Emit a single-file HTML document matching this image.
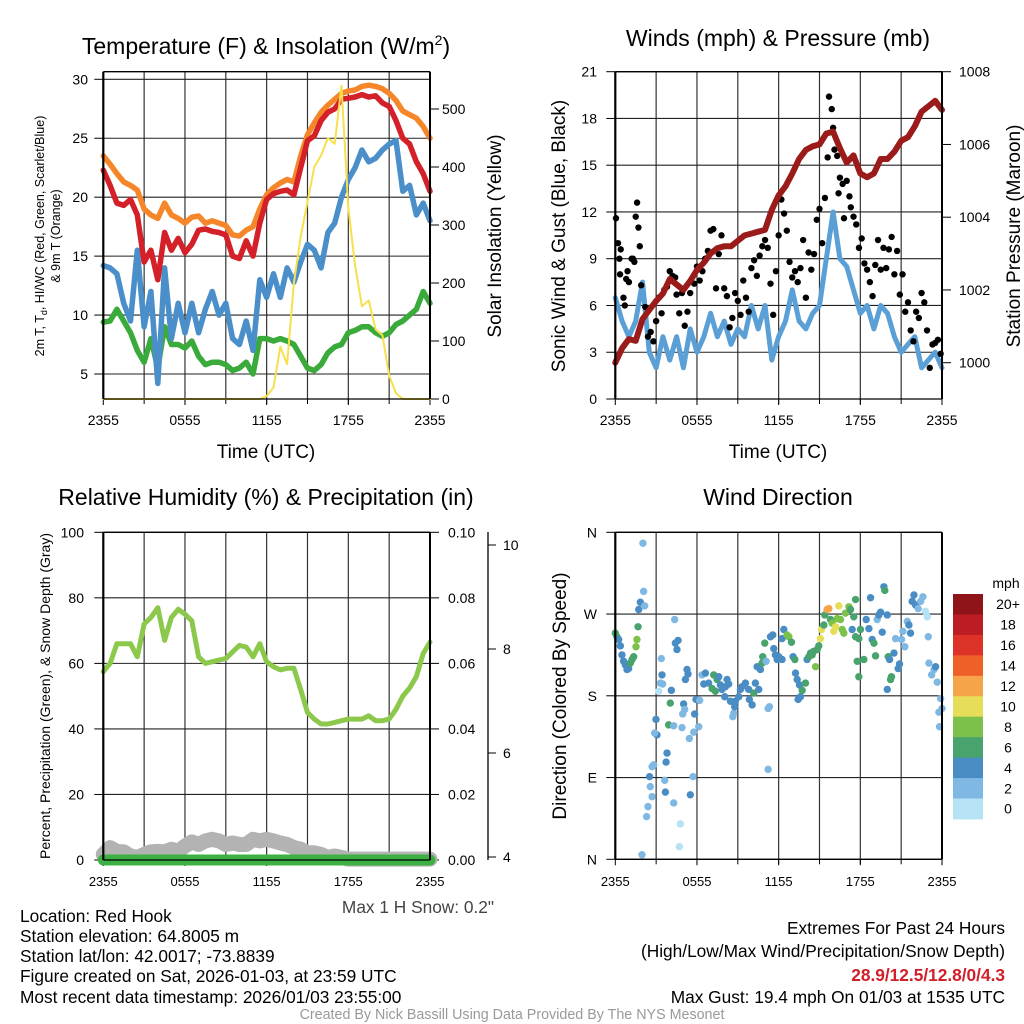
<!DOCTYPE html>
<html><head><meta charset="utf-8">
<style>
html,body{margin:0;padding:0;background:#fff;}
svg{display:block;font-family:"Liberation Sans",sans-serif;}
.t{font-size:23px;fill:#000;}
.ax{font-size:19px;fill:#000;}
.ft{font-family:"Liberation Sans",sans-serif;font-size:17.3px;fill:#000;}
</style></head>
<body>
<svg id="fig" width="1024" height="1024" viewBox="0 0 1024 1024" xmlns="http://www.w3.org/2000/svg">
<text class="t" x="266" y="54" text-anchor="middle">Temperature (F) &amp; Insolation (W/m<tspan dy="-9" font-size="14">2</tspan><tspan dy="9">)</tspan></text>
<text class="t" x="778" y="46" text-anchor="middle">Winds (mph) &amp; Pressure (mb)</text>
<text class="t" x="266" y="505" text-anchor="middle">Relative Humidity (%) &amp; Precipitation (in)</text>
<text class="t" x="778" y="505" text-anchor="middle">Wind Direction</text>

<text class="ax" x="266" y="458" text-anchor="middle">Time (UTC)</text>
<text class="ax" x="778" y="458" text-anchor="middle">Time (UTC)</text>
<text font-size="12.5" transform="translate(44,236) rotate(-90)" text-anchor="middle">2m T, T<tspan font-size="9" dy="3">d</tspan><tspan dy="-3">, HI/WC (Red, Green, Scarlet/Blue)</tspan></text>
<text font-size="12.5" transform="translate(60,236) rotate(-90)" text-anchor="middle">&amp; 9m T (Orange)</text>
<text class="ax" transform="translate(501,236) rotate(-90)" text-anchor="middle">Solar Insolation (Yellow)</text>
<text class="ax" transform="translate(565,236) rotate(-90)" text-anchor="middle">Sonic Wind &amp; Gust (Blue, Black)</text>
<text class="ax" transform="translate(1020,236) rotate(-90)" text-anchor="middle">Station Pressure (Maroon)</text>
<text font-size="14" transform="translate(50,696) rotate(-90)" text-anchor="middle">Percent, Precipitation (Green), &amp; Snow Depth (Gray)</text>
<text class="ax" transform="translate(566,696) rotate(-90)" text-anchor="middle">Direction (Colored By Speed)</text>

<g id="p1"></g>
<g id="p2"></g>
<g id="p3"></g>
<g id="p4"></g>
<g id="cb"></g>
<text x="1006" y="588" font-size="14" text-anchor="middle">mph</text>

<text class="ft" x="418" y="913" text-anchor="middle" style="fill:#444">Max 1 H Snow: 0.2"</text>
<g>
<text class="ft" x="20" y="922">Location: Red Hook</text>
<text class="ft" x="20" y="942">Station elevation: 64.8005 m</text>
<text class="ft" x="20" y="962">Station lat/lon: 42.0017; -73.8839</text>
<text class="ft" x="20" y="982">Figure created on Sat, 2026-01-03, at 23:59 UTC</text>
<text class="ft" x="20" y="1003">Most recent data timestamp: 2026/01/03 23:55:00</text>
</g>
<g>
<text class="ft" x="1005" y="934" text-anchor="end">Extremes For Past 24 Hours</text>
<text class="ft" x="1005" y="957" text-anchor="end">(High/Low/Max Wind/Precipitation/Snow Depth)</text>
<text class="ft" x="1005" y="981" text-anchor="end" font-weight="bold" style="fill:#d0202a">28.9/12.5/12.8/0/4.3</text>
<text class="ft" x="1005" y="1003" text-anchor="end">Max Gust: 19.4 mph On 01/03 at 1535 UTC</text>
</g>
<text x="512" y="1019" font-size="14.3" text-anchor="middle" style="fill:#999">Created By Nick Bassill Using Data Provided By The NYS Mesonet</text>
</svg>
<script>
const hours = [0,0.5,1,1.5,2,2.5,3,3.5,4,4.5,5,5.5,6,6.5,7,7.5,8,8.5,9,9.5,10,10.5,11,11.5,12,12.5,13,13.5,14,14.5,15,15.5,16,16.5,17,17.5,18,18.5,19,19.5,20,20.5,21,21.5,22,22.5,23,23.5,24];
const xTickHours = [0,6,12,18,24];
const xTickLabels = ['2355','0555','1155','1755','2355'];
const tempTicks = [5,10,15,20,25,30];
const solarTicks = [0,100,200,300,400,500];
const windTicks = [0,3,6,9,12,15,18,21];
const presTicks = [1000,1002,1004,1006,1008];
const rhTicks = [0,20,40,60,80,100];
const precipTicks = ['0.00','0.02','0.04','0.06','0.08','0.10'];
const snowTicks = [4,6,8,10];
const dirTicks = [0,90,180,270,360];
const dirLabels = ['N','E','S','W','N'];

const temp9m = [23.5,22.8,22,21.3,21,20.6,19,18.5,18.2,19.5,18.5,18.2,17.8,18.3,18.4,17.8,18,17.8,17.6,16.8,16.7,17.2,17.5,19,20.2,20.8,21.2,21.5,21.3,23.5,25.3,26.3,27.2,27.8,28.3,28.8,29,29.1,29.4,29.5,29.4,29.2,28.8,28.2,27.3,27,26.7,26,25];
const temp2m = [22.3,21,19.5,19.3,19.8,18.5,14.5,15.5,13,17,15.5,16.5,15.3,16,17.2,17.3,17.1,17,16.8,15,14.8,16.3,15,17.8,19.8,20.3,20.5,20.6,20.2,22.5,24.8,25.2,26.5,27.2,27.5,28.3,28.4,28.5,28.7,28.5,28.6,28,27.7,26.5,25,24.5,23,22,20.5];
const dewpoint = [14.2,14,13.5,11,9.5,15.5,9,12,4.2,14,8,11,8.5,11,8.5,10.5,12,10,11,8,7.5,9.5,7,13,11.5,13.5,11.5,14,12.8,14.5,16,15.5,14,17,17.8,20,21.5,22.5,24,23,23.3,24,24.5,24.8,20.5,21,18.5,19.5,18];
const windChill = [9.4,9.5,10.5,9.5,8.5,7,6,8,5.5,9,7.5,7.5,7.2,7.8,6.5,5.8,6,6,5.8,5.3,5.5,6,5,8,8,7.8,8,7.8,7.5,6.5,5.5,5.3,5.8,6.8,7.3,7.5,8.5,8.7,9,9,8.5,8.2,8.5,9.2,9.5,10,10.5,12,11];
const solar = [0,0,0,0,0,0,0,0,0,0,0,0,0,0,0,0,0,0,0,0,0,0,0,0,5,20,90,60,200,280,340,400,420,450,440,540,330,230,160,170,120,110,40,10,0,0,0,0,0];
const windSpeed = [6.5,5,4,5,7.5,3,2,4,2.5,4,2,4.5,3,4,5.5,4,5,3.5,4.5,4,6,4.5,6,2.5,4,5,7,5,4.5,5.5,6,9,12,9,8.5,7,5.5,6,4.5,6,5.5,4,3,3.5,4,2,2.5,3,2];
const pressure = [1000.0,1000.4,1000.65,1000.6,1001.2,1001.45,1001.7,1001.9,1002.3,1002.15,1002.0,1002.25,1002.55,1002.75,1003.0,1003.15,1003.2,1003.2,1003.35,1003.5,1003.55,1003.6,1003.65,1004.2,1004.6,1004.85,1005.2,1005.6,1005.85,1005.95,1006.0,1006.3,1006.35,1005.9,1005.5,1005.7,1005.2,1005.1,1005.2,1005.6,1005.6,1005.8,1006.1,1006.2,1006.5,1006.9,1007.05,1007.2,1006.95];
const gustHours = [0.05,0.2,0.3,0.4,0.35,0.6,0.7,0.8,0.9,1,1.2,1.3,1.4,1.5,1.6,1.7,1.8,1.9,2.2,2.4,2.6,2.8,3.0,3.2,3.4,3.6,3.8,4.0,4.2,4.4,4.5,4.7,4.9,5.1,5.3,5.5,5.8,6.0,6.2,6.4,6.6,6.8,7.0,7.2,7.4,7.6,7.8,8.0,8.2,8.4,8.6,8.8,9.0,9.2,9.4,9.6,9.8,10.0,10.2,10.4,10.6,10.8,11.0,11.2,11.4,11.6,11.8,12.0,12.2,12.4,12.6,12.8,13.0,13.2,13.4,13.6,13.8,14.0,14.2,14.4,14.6,14.8,15.0,15.2,15.4,15.6,15.7,15.9,16.0,16.1,16.3,16.4,16.5,16.7,16.8,17.0,17.2,17.3,17.5,17.7,17.9,18.1,18.3,18.5,18.7,18.9,19.1,19.3,19.5,19.7,19.9,20.1,20.3,20.5,20.7,20.9,21.1,21.3,21.5,21.7,21.9,22.1,22.3,22.5,22.7,22.9,23.1,23.3,23.5,23.7,23.9];
const gustSpeed = [11.6,10,9,9.6,8,6.5,6,7.7,8.2,7.5,9,9,8.8,11.7,12.6,11,9.8,7.3,5.9,4,4.3,3.7,5,6.5,5.5,7,7.2,8.2,7.9,7.8,6.7,5.5,6.8,4.7,5.6,6.8,7.4,8.5,7.6,8.2,9,9.5,10.8,10.9,7.1,9.3,10.5,7.1,6.6,4.6,5.2,6.8,6.3,5.4,7.6,6.5,5.6,8.4,8.9,7.9,9.2,9.8,10.2,9.7,7.4,5.4,8.2,10.5,12.8,11.9,10.8,8.8,7.8,8.2,7.5,8.4,10.2,6.5,9.4,8.3,9.3,11.5,12.2,10,12.9,15.5,19.4,18.6,17.4,16,15.6,13.2,14.2,13.8,11.6,14,13,12.3,11.7,11.2,9.7,10.3,8.7,8.3,7.5,6.6,8.6,10.2,8.3,9.7,8.4,9.6,10.4,8,9.5,6.7,8,5.6,6.2,4.4,3.7,5.6,5.2,6.8,6.2,4.4,2,3.5,3.6,3.8,2.9];
const rh = [57.5,60,66,66,66,62,72,74,77,67,74,76.5,75,73,62,60,60.5,61,61.5,63.5,65.5,65,62,66,60.5,59,58,58.5,58.5,52,45,43,41.5,41.5,42,42.5,43,43,43,44,42.5,42.5,43,46,50,52.5,56,63,66.5];
const precip = [0,0,0,0,0,0,0,0,0,0,0,0,0,0,0,0,0,0,0,0,0,0,0,0,0,0,0,0,0,0,0,0,0,0,0,0,0,0,0,0,0,0,0,0,0,0,0,0,0];
const snowDepth = [4.05,4.18,4.11,4.1,4.02,3.99,4.05,4.1,4.11,4.1,4.15,4.11,4.21,4.29,4.24,4.31,4.34,4.31,4.24,4.27,4.24,4.24,4.34,4.31,4.34,4.31,4.27,4.24,4.18,4.15,4.08,4.08,4.05,3.99,4.02,3.99,3.96,3.96,3.96,3.96,3.96,3.96,3.96,3.96,3.96,3.96,3.96,3.96,3.96];
const dirHours = [0,0.12,0.25,0.37,0.49,0.61,0.74,0.86,0.98,1.10,1.23,1.35,1.52,1.59,1.67,2.03,2.08,1.84,1.72,2.16,4.36,2.99,3.06,2.89,2.82,2.70,2.52,2.57,2.70,2.40,2.30,1.96,3.38,3.43,3.31,3.48,3.19,4.12,4.04,3.92,4.29,3.80,3.73,3.63,3.68,4.29,4.78,4.71,4.41,4.53,4.61,5.15,5.27,5.34,5.02,5.10,4.95,4.90,5.76,5.44,5.83,5.93,6.20,6.13,5.71,5.51,6.37,6.62,6.50,6.86,7.11,7.23,7.35,7.48,7.60,7.72,7.84,8.09,8.21,8.33,8.04,8.46,8.70,8.63,8.77,8.82,9.07,9.19,9.31,9.56,9.80,9.85,10.05,10.17,10.29,10.54,10.42,10.66,10.83,10.98,10.78,11.08,11.23,11.32,11.23,11.40,11.57,11.64,11.76,11.89,12.01,12.25,12.38,12.25,12.62,12.75,12.94,13.06,13.19,13.24,13.36,13.53,13.43,13.60,13.73,13.97,14.09,14.22,14.34,14.46,14.58,14.71,14.83,14.95,15.07,15.15,15.32,15.39,15.56,15.69,15.81,15.93,16.05,16.18,16.30,16.42,16.54,16.67,16.79,16.91,17.16,17.28,17.52,17.65,17.40,17.65,17.89,18.01,17.77,18.26,17.89,18.43,18.63,18.75,18.87,19.00,19.12,19.24,19.36,19.49,19.61,19.73,19.80,19.98,20.05,20.15,20.29,20.22,19.98,20.47,20.59,20.78,20.88,21.03,21.13,21.27,21.45,21.57,21.69,21.81,21.94,22.06,22.25,22.43,22.60,22.79,22.92,22.99,23.04,23.24,23.41,23.53,23.65,23.90,23.77,24.0,23.82];
const dirDegrees = [249,245,242,235,225,218,214,209,210,216,220,223,234,242,256,348,295,283,275,279,264,154,137,139,104,102,91,80,69,58,47,5,221,203,194,193,185,186,172,148,147,117,107,87,74,62,39,14,238,231,241,198,209,204,171,165,160,145,140,133,160,176,175,146,91,71,203,205,193,194,188,203,185,198,201,192,187,190,198,193,179,174,161,157,168,174,179,187,190,194,187,176,170,183,194,187,212,209,223,238,216,218,166,168,99,245,247,232,225,220,223,220,253,243,247,245,239,223,220,205,198,192,176,179,186,194,220,223,227,225,229,212,231,235,243,253,258,269,275,276,264,260,251,256,265,279,264,253,249,271,278,275,267,286,253,245,243,253,218,220,201,264,254,288,242,238,224,264,269,272,250,300,296,269,223,220,201,198,187,227,243,210,215,242,251,234,262,258,249,284,291,280,276,284,289,273,267,245,216,203,209,212,195,177,162,166,146];
const dirSpeed = [7,7,5,5,5,5,5,5,5,7,7,7,9,9,7,3,3,5,5,3,3,5,5,3,3,3,5,3,3,3,3,3,3,5,3,3,1,5,7,7,3,5,5,3,5,3,1,1,5,5,5,5,5,5,5,3,3,3,3,3,5,5,3,3,3,5,3,5,5,5,7,7,7,7,5,5,5,5,5,5,5,5,3,3,5,5,5,5,5,5,5,5,5,7,5,5,5,5,7,7,7,3,3,3,3,5,5,5,5,5,5,5,5,5,9,9,7,5,7,5,5,5,5,5,7,7,5,7,7,7,7,9,7,7,11,11,7,7,13,13,7,9,11,11,9,11,9,9,9,9,9,7,7,7,5,7,7,7,7,7,7,5,5,5,5,7,7,3,5,5,5,5,7,5,7,5,7,7,5,5,3,5,5,3,3,3,3,5,5,5,5,5,3,3,3,1,1,3,3,3,3,5,3,3,3,3,3,3,3,3];
const cbLabels = ['20+','18','16','14','12','10','8','6','4','2','0'];

const NS='http://www.w3.org/2000/svg';
function el(parent,tag,attrs){const e=document.createElementNS(NS,tag);for(const k in attrs)e.setAttribute(k,attrs[k]);parent.appendChild(e);return e;}
function lin(d0,d1,p0,p1){return v=>p0+(v-d0)*(p1-p0)/(d1-d0);}
const speedColors=['#b5e2f5','#7fb8e3','#4a8cc4','#48a36d','#7bc14a','#e6dd58','#f6a44a','#ef6029','#dc3228','#bd1c24','#8f1419'];
function colorFor(s){if(typeof s!=='number'||isNaN(s))return '#7fb8e3';let i=Math.floor(s/2);if(i>10)i=10;if(i<0)i=0;return speedColors[i];}

function frame(g,L,R,T,B,xs,name,labelY,labelSize){
  for(let h=3;h<24;h+=3){
    const ln=el(g,'line',{x1:xs(h),x2:xs(h),y1:T,y2:B,stroke:'#333','stroke-width':1.2});
    
    
    const tk=el(g,'line',{x1:xs(h),x2:xs(h),y1:B,y2:B+5,stroke:'#000','stroke-width':1});
    
    
  }
  xTickHours.forEach((h,i)=>{
    const tk=el(g,'line',{x1:xs(h),x2:xs(h),y1:B,y2:B+6,stroke:'#000','stroke-width':1});
    
    
    const t=el(g,'text',{x:xs(h),y:labelY,'text-anchor':'middle','font-size':labelSize});
    t.textContent=xTickLabels[i];
    
    
  });
}
function hgrid(g,L,R,vals,ys,labels,side,name,lx){
  vals.forEach((v,i)=>{
    const y=ys(v);
    const ln=el(g,'line',{x1:L,x2:R,y1:y,y2:y,stroke:'#222','stroke-width':1.1});
    
    
    const tk=el(g,'line',{x1:side==='l'?L-9:R,x2:side==='l'?L:R+9,y1:y,y2:y,stroke:'#000','stroke-width':1});
    
    
    const t=el(g,'text',{x:lx,y:y+5,'text-anchor':side==='l'?'end':'start','font-size':14});
    t.textContent=labels[i];
    
    
  });
}
function rticks(g,R,vals,ys,labels,name,lx){
  vals.forEach((v,i)=>{
    const y=ys(v);
    const tk=el(g,'line',{x1:R,x2:R+9,y1:y,y2:y,stroke:'#000','stroke-width':1});
    
    
    const t=el(g,'text',{x:lx,y:y+5,'font-size':14});
    t.textContent=labels[i];
    
    
  });
}
function path(g,xs,ys,xa,ya,attrs,name){
  let d='';xa.forEach((x,i)=>{d+=(i?'L':'M')+xs(x).toFixed(1)+','+ys(ya[i]).toFixed(1);});
  const p=el(g,'path',Object.assign({d:d,fill:'none','stroke-linejoin':'round','stroke-linecap':'round'},attrs));
  
  
  return p;
}
function borders(g,L,R,T,B){
  el(g,'line',{x1:L,x2:L,y1:T,y2:B,stroke:'#000','stroke-width':2.2});
  el(g,'line',{x1:R,x2:R,y1:T,y2:B,stroke:'#000','stroke-width':2});
  el(g,'line',{x1:L,x2:R,y1:B,y2:B,stroke:'#000','stroke-width':1.3});
  el(g,'line',{x1:L,x2:R,y1:T,y2:T,stroke:'#000','stroke-width':1.3});
}

(function(){
  const g=document.getElementById('p1');
  const L=103.3,R=430,T=71.7,B=399;
  const xs=lin(0,24,L,R), ys=lin(5,30,374,79.3), ysr=lin(0,500,399,109);
  frame(g,L,R,T,B,xs,'temp',425,14);
  hgrid(g,L,R,tempTicks,ys,tempTicks,'l','temp-left',88);
  rticks(g,R,solarTicks,ysr,solarTicks,'solar',442);
  path(g,xs,ys,hours,windChill,{stroke:'#3aaa3a','stroke-width':5.5},'windchill-line');
  path(g,xs,ys,hours,dewpoint,{stroke:'#4a8fc9','stroke-width':5.5},'dewpoint-line');
  path(g,xs,ys,hours,temp9m,{stroke:'#f5862a','stroke-width':5.5},'temp-9m-line');
  path(g,xs,ys,hours,temp2m,{stroke:'#d42028','stroke-width':5.5},'temp-2m-line');
  path(g,xs,ysr,hours,solar,{stroke:'#f7e04b','stroke-width':2},'solar-line');
  borders(g,L,R,T,B);
})();

(function(){
  const g=document.getElementById('p2');
  const L=615.3,R=942,T=71.7,B=399;
  const xs=lin(0,24,L,R), ys=lin(0,21,399,71.7), ysr=lin(1000,1008,362.7,71.7);
  frame(g,L,R,T,B,xs,'wind',425,14);
  hgrid(g,L,R,windTicks,ys,windTicks,'l','wind-left',597);
  rticks(g,R,presTicks,ysr,presTicks,'pressure',959);
  path(g,xs,ys,hours,windSpeed,{stroke:'#5a9fd6','stroke-width':5},'wind-speed-line');
  gustHours.forEach((h,i)=>{
    const c=el(g,'circle',{cx:xs(h),cy:ys(gustSpeed[i]),r:3.2,fill:'#000'});
    
    
  });
  path(g,xs,ysr,hours,pressure,{stroke:'#9b1b1b','stroke-width':6},'pressure-line');
  borders(g,L,R,T,B);
})();

(function(){
  const g=document.getElementById('p3');
  const L=103.3,R=430,T=532.3,B=860;
  const xs=lin(0,24,L,R), ys=lin(0,100,860,532.3), yp=lin(0,0.1,860,532.3), yd=lin(4,10,857,545);
  frame(g,L,R,T,B,xs,'rh',886,13);
  hgrid(g,L,R,rhTicks,ys,rhTicks,'l','rh-left',84);
  rticks(g,R,[0,0.02,0.04,0.06,0.08,0.1],yp,precipTicks,'precip',448);
  const ax=el(g,'line',{x1:488,x2:488,y1:532,y2:860,stroke:'#000','stroke-width':1.3});
  
  
  snowTicks.forEach(v=>{
    const tk=el(g,'line',{x1:488,x2:496,y1:yd(v),y2:yd(v),stroke:'#000','stroke-width':1});
    
    
    const t=el(g,'text',{x:503,y:yd(v)+5,'font-size':14});
    t.textContent=v;
    
    
  });
  path(g,xs,yd,hours,snowDepth,{stroke:'#b3b3b3','stroke-width':15},'snow-depth-line');
  path(g,xs,yp,hours,precip,{stroke:'#3cb043','stroke-width':11},'precip-line');
  path(g,xs,ys,hours,rh,{stroke:'#8cc84b','stroke-width':5},'rh-line');
  borders(g,L,R,T,B);
})();

(function(){
  const g=document.getElementById('p4');
  const L=615.3,R=942,T=532.3,B=859.3;
  const xs=lin(0,24,L,R), ys=lin(0,360,859.3,532.3);
  frame(g,L,R,T,B,xs,'dir',886,13);
  hgrid(g,L,R,dirTicks,ys,dirLabels,'l','dir-left',597);
  dirHours.forEach((h,i)=>{
    const c=el(g,'circle',{cx:xs(h),cy:ys(dirDegrees[i]),r:3.7,fill:colorFor(dirSpeed[i])});
    
    
  });
  borders(g,L,R,T,B);
})();

(function(){
  const g=document.getElementById('cb');
  const top=594,h=20.45;
  cbLabels.forEach((lab,i)=>{
    const r=el(g,'rect',{x:953,y:top+i*h,width:30,height:h+0.5,fill:speedColors[10-i]});
    
    
    const t=el(g,'text',{x:1008,y:top+i*h+h/2+5,'text-anchor':'middle','font-size':14});
    t.textContent=lab;
    
    
  });
})();
</script>
</body></html>
